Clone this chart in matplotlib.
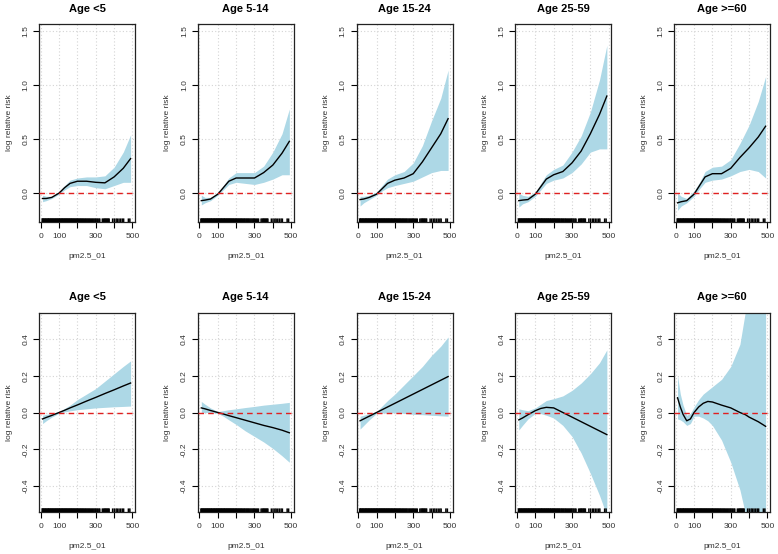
import matplotlib
matplotlib.use("Agg")
import matplotlib.pyplot as plt

plt.rcParams['font.family'] = ['Liberation Sans', 'DejaVu Sans']

# panel titles (same for both rows)
age_groups = ["Age <5", "Age 5-14", "Age 15-24", "Age 25-59", "Age >=60"]

pm_grid = [10, 30, 60, 100, 130, 160, 200, 250, 300, 350, 400, 450, 490]
pm_grid_fine = [10, 25, 40, 60, 80, 100, 125, 150, 175, 200, 250, 300,
                350, 380, 400, 450, 490]

# top row: fit, lower and upper band
top_fit = [
    [-0.05, -0.05, -0.04, 0.0, 0.05, 0.09, 0.11, 0.11, 0.10, 0.095, 0.15, 0.23, 0.32],
    [-0.07, -0.065, -0.055, -0.01, 0.05, 0.11, 0.14, 0.14, 0.14, 0.19, 0.26, 0.37, 0.48],
    [-0.06, -0.055, -0.04, -0.01, 0.04, 0.09, 0.12, 0.14, 0.18, 0.29, 0.42, 0.55, 0.69],
    [-0.07, -0.065, -0.06, -0.01, 0.06, 0.13, 0.17, 0.20, 0.28, 0.39, 0.55, 0.73, 0.90],
    [-0.09, -0.08, -0.07, -0.01, 0.07, 0.15, 0.18, 0.18, 0.23, 0.33, 0.42, 0.52, 0.62],
]
top_lo = [
    [-0.08, -0.07, -0.05, -0.01, 0.03, 0.06, 0.07, 0.07, 0.05, 0.04, 0.07, 0.10, 0.10],
    [-0.11, -0.09, -0.07, -0.02, 0.03, 0.08, 0.10, 0.09, 0.08, 0.10, 0.13, 0.17, 0.17],
    [-0.12, -0.09, -0.06, -0.02, 0.02, 0.05, 0.07, 0.09, 0.11, 0.15, 0.19, 0.21, 0.21],
    [-0.13, -0.10, -0.08, -0.03, 0.03, 0.09, 0.12, 0.14, 0.19, 0.27, 0.38, 0.41, 0.41],
    [-0.16, -0.12, -0.09, -0.03, 0.04, 0.10, 0.12, 0.13, 0.16, 0.20, 0.22, 0.20, 0.14],
]
top_hi = [
    [-0.02, -0.03, -0.03, 0.01, 0.07, 0.12, 0.14, 0.15, 0.15, 0.16, 0.24, 0.38, 0.54],
    [-0.02, -0.04, -0.04, 0.0, 0.07, 0.14, 0.19, 0.19, 0.19, 0.25, 0.38, 0.55, 0.78],
    [-0.03, -0.03, -0.02, 0.01, 0.07, 0.13, 0.17, 0.20, 0.28, 0.44, 0.67, 0.88, 1.14],
    [0.0, -0.02, -0.03, 0.01, 0.09, 0.17, 0.22, 0.26, 0.38, 0.53, 0.75, 1.05, 1.37],
    [0.0, -0.03, -0.05, 0.02, 0.10, 0.20, 0.24, 0.25, 0.31, 0.46, 0.63, 0.85, 1.08],
]

# bottom row (last panel uses pm_grid_fine)
bottom_fit = [
    [-0.035, -0.027, -0.016, 0.0, 0.012, 0.025, 0.041, 0.062, 0.082, 0.103, 0.123, 0.144, 0.16],
    [0.025, 0.02, 0.011, 0.0, -0.008, -0.017, -0.028, -0.042, -0.056, -0.07, -0.082, -0.096, -0.11],
    [-0.045, -0.035, -0.02, 0.0, 0.015, 0.03, 0.05, 0.075, 0.10, 0.125, 0.15, 0.175, 0.195],
    [-0.04, -0.03, -0.012, 0.01, 0.022, 0.028, 0.025, 0.0, -0.025, -0.05, -0.075, -0.10, -0.12],
    [0.08, 0.03, -0.01, -0.045, -0.035, 0.0, 0.03, 0.05, 0.06, 0.057, 0.04, 0.025,
     0.0, -0.012, -0.025, -0.05, -0.075],
]
bottom_lo = [
    [-0.06, -0.045, -0.025, -0.005, 0.003, 0.009, 0.015, 0.02, 0.025, 0.028, 0.031, 0.033, 0.035],
    [0.0, 0.0, 0.0, -0.005, -0.02, -0.04, -0.065, -0.10, -0.13, -0.16, -0.195, -0.235, -0.27],
    [-0.09, -0.07, -0.04, -0.005, -0.003, -0.002, -0.002, -0.005, -0.01, -0.012, -0.015, -0.018, -0.02],
    [-0.095, -0.07, -0.035, -0.005, -0.006, -0.015, -0.03, -0.07, -0.13, -0.22, -0.33, -0.45, -0.56],
    [-0.035, -0.04, -0.05, -0.07, -0.06, -0.02, -0.02, -0.03, -0.045, -0.07, -0.15, -0.27,
     -0.42, -0.55, -0.70, -1.0, -1.2],
]
bottom_hi = [
    [-0.015, -0.01, -0.005, 0.005, 0.022, 0.04, 0.07, 0.10, 0.13, 0.17, 0.21, 0.25, 0.28],
    [0.06, 0.045, 0.025, 0.005, 0.01, 0.015, 0.02, 0.027, 0.033, 0.04, 0.045, 0.05, 0.055],
    [-0.02, -0.015, -0.005, 0.005, 0.035, 0.065, 0.10, 0.15, 0.20, 0.25, 0.31, 0.36, 0.41],
    [0.02, 0.015, 0.01, 0.025, 0.045, 0.065, 0.075, 0.09, 0.12, 0.16, 0.21, 0.27, 0.34],
    [0.20, 0.10, 0.04, -0.015, -0.005, 0.03, 0.07, 0.10, 0.12, 0.14, 0.18, 0.25,
     0.37, 0.55, 0.70, 1.0, 1.2],
]

# observed pm2.5 values shown as the rug
rug_pm = [8, 11, 14, 17, 21, 24, 27, 31, 34, 38, 41, 44, 47, 51, 54, 57, 61, 64,
          67, 71, 74, 78, 81, 84, 88, 91, 94, 98, 101, 104, 108, 111, 115, 118,
          121, 125, 128, 132, 135, 138, 142, 145, 149, 152, 156, 159, 163, 166,
          170, 173, 177, 181, 184, 188, 192, 196, 199, 203, 207, 211, 215, 219,
          223, 227, 231, 235, 240, 244, 248, 253, 257, 262, 266, 271, 276, 281,
          286, 291, 296, 300, 306, 311, 317, 322, 336, 342, 347, 351, 355, 360,
          364, 369, 373, 392, 401, 411, 418, 427, 436, 445, 452, 478, 486]

xticks = [0, 100, 200, 300, 400, 500]
xtick_labels = ["0", "100", "", "300", "", "500"]
top_yticks = [0.0, 0.5, 1.0, 1.5]
bottom_yticks = [-0.4, -0.2, 0.0, 0.2, 0.4]

fig = plt.figure(figsize=(7.78, 5.54), dpi=100)
W, H = 778.0, 554.0


def draw_panel(ax, x, fit, lo, hi, title, ylim, yticks):
    ax.fill_between(x, lo, hi, color="lightblue", lw=0, zorder=2)
    ax.plot(x, fit, color="black", lw=1.0, zorder=3)
    ax.axhline(0, color="#e02020", ls=(0, (4, 3)), lw=1.0, zorder=4)
    ax.vlines(rug_pm, 0, 0.018, transform=ax.get_xaxis_transform(),
              color="black", lw=1.1, zorder=5, snap=False)
    ax.set_xlim(-9.4, 514)
    ax.set_ylim(*ylim)
    ax.set_xticks(xticks)
    ax.set_xticklabels(xtick_labels)
    ax.set_yticks(yticks)
    ax.set_yticklabels(["%.1f" % v for v in yticks], rotation=90, va="center")
    ax.grid(True, color="#d4d4d4", ls=(0, (1, 2)), lw=0.8, zorder=1)
    ax.set_axisbelow(True)
    ax.tick_params(length=4, width=0.8, labelsize=6, pad=4,
                   labelcolor="#333333")
    ax.tick_params(axis="y", pad=3)
    for s in ax.spines.values():
        s.set_linewidth(0.9)
        s.set_color("#222222")
    ax.set_title(title, fontsize=8, fontweight="bold", pad=9)
    ax.set_xlabel("pm2.5_01", fontsize=6, labelpad=9, color="#333333")
    ax.set_ylabel("log relative risk", fontsize=6, labelpad=7, color="#333333")


col_left = [39, 197.75, 356.5, 515.25, 674]
for i, title in enumerate(age_groups):
    ax = fig.add_axes([col_left[i] / W, 1 - 222 / H, 96 / W, 198 / H])
    draw_panel(ax, pm_grid, top_fit[i], top_lo[i], top_hi[i], title,
               (-0.268, 1.568), top_yticks)

for i, title in enumerate(age_groups):
    ax = fig.add_axes([col_left[i] / W, 1 - 512 / H, 96 / W, 199 / H])
    x = pm_grid_fine if i == 4 else pm_grid
    draw_panel(ax, x, bottom_fit[i], bottom_lo[i], bottom_hi[i], title,
               (-0.54, 0.54), bottom_yticks)

fig.savefig("out.png", dpi=100)
